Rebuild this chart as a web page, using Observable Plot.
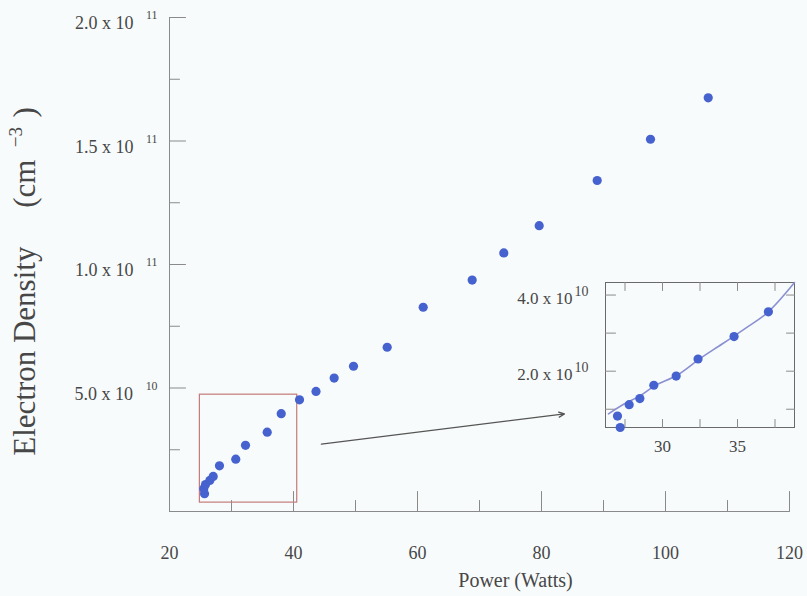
<!DOCTYPE html>
<html>
<head>
<meta charset="utf-8">
<script src="https://cdn.jsdelivr.net/npm/d3@7"></script>
<script src="https://cdn.jsdelivr.net/npm/@observablehq/plot@0.6"></script>
<style>
  html, body { margin: 0; padding: 0; background: #f8fbfc; }
  #wrap { position: relative; width: 807px; height: 596px; overflow: hidden; }
  #wrap svg { position: absolute; }
</style>
</head>
<body>
<div id="wrap"></div>
<script>
// ---- main chart data (Power in W, electron density in cm^-3) ----
const powerW = [25.65, 25.53, 25.81, 26.50, 27.05, 28.06, 30.69, 32.26, 35.76, 38.02, 40.97,
                43.63, 46.56, 49.68, 55.11, 60.92, 68.82, 73.92, 79.63, 88.98, 97.58, 106.89];
const densityCm3 = [0.72e10, 0.92e10, 1.09e10, 1.26e10, 1.42e10, 1.85e10, 2.12e10, 2.68e10, 3.21e10, 3.96e10, 4.52e10,
                    4.86e10, 5.40e10, 5.88e10, 6.65e10, 8.27e10, 9.37e10, 10.47e10, 11.57e10, 13.40e10, 15.07e10, 16.75e10];

// ---- inset data ----
const insetPowerW = [27.18, 27.00, 27.78, 28.49, 29.42, 30.91, 32.37, 34.77, 37.06];
const insetDensity = [0.52e10, 0.82e10, 1.12e10, 1.28e10, 1.63e10, 1.87e10, 2.32e10, 2.91e10, 3.56e10];
// fitted curve shown in the inset
const fitPowerW = [26.4, 27.5, 28.5, 29.5, 31.0, 32.5, 34.0, 35.5, 37.0, 38.8];
const fitDensity = [0.88e10, 1.15e10, 1.35e10, 1.62e10, 1.90e10, 2.33e10, 2.72e10, 3.12e10, 3.54e10, 4.33e10];

// ---- ticks ----
const xMajorTicks = [20, 40, 60, 80, 100, 120];
const xMinorTicks = [30, 50, 70, 90, 110];
const yMajorTicks = [5e10, 1e11, 1.5e11, 2e11];
const yMinorTicks = [2.5e10, 7.5e10, 1.25e11, 1.75e11];
const insetXLabelTicks = [30, 35];
const insetXTicks = [27.5, 30, 32.5, 35, 37.5];
const insetYLabelTicks = [2e10, 4e10];
const insetYTicks = [1e10, 2e10, 3e10, 4e10];

// ---- annotations ----
const zoomBox = [{x1: 24.9, x2: 40.6, y1: 0.36e10, y2: 4.73e10}];
const zoomArrow = [{x1: 44.5, y1: 2.73e10, x2: 83.7, y2: 3.95e10}];

const xTitle = "Power (Watts)";
const yTitle = "Electron Density\u00a0\u00a0\u00a0\u00a0\u00a0(cm^\u22123^)";

const mainData = powerW.map((p, i) => ({p, n: densityCm3[i]}));
const insetData = insetPowerW.map((p, i) => ({p, n: insetDensity[i]}));
const fitData = fitPowerW.map((p, i) => ({p, n: fitDensity[i]}));

const dotColor = "#4662cf";
const axisColor = "#8a8a8a";
const textColor = "#474747";
const font = "Liberation Serif, Times New Roman, serif";

const sciFmt = v => {
  const e = Math.floor(Math.log10(v) + 1e-9);
  return `${(v / 10 ** e).toFixed(1)} x 10^${e}^`;
};
const tickShape = {draw(ctx, l) { ctx.moveTo(0, 0); ctx.lineTo(0, -l); }};
const vtick = (data, opts) => Plot.vector(data, {anchor: "start", shape: tickShape, stroke: axisColor, strokeWidth: 1, ...opts});

const main = Plot.plot({
  width: 807, height: 596,
  marginLeft: 169, marginRight: 18, marginTop: 17, marginBottom: 85,
  style: {background: "transparent", fontFamily: font, color: textColor},
  x: {domain: [20, 120]},
  y: {domain: [0, 2e11]},
  marks: [
    Plot.axisX({ticks: xMajorTicks, tickSize: 0, tickPadding: 35, fontSize: 18, label: null, tickFormat: d => String(d)}),
    Plot.axisY({ticks: yMajorTicks, tickSize: 0, tickPadding: 12, dy: 6, fontSize: 18, label: null, tickFormat: sciFmt}),
    Plot.ruleX([20], {stroke: axisColor}),
    Plot.ruleY([0], {stroke: axisColor}),
    vtick(yMajorTicks, {x: 20, y: d => d, length: 16, rotate: 90}),
    vtick(yMinorTicks, {x: 20, y: d => d, length: 10, rotate: 90}),
    vtick(xMajorTicks.slice(1), {x: d => d, y: 0, length: 20, rotate: 0}),
    vtick(xMinorTicks, {x: d => d, y: 0, length: 11, rotate: 0}),
    Plot.rect(zoomBox, {x1: "x1", x2: "x2", y1: "y1", y2: "y2", fill: "none", stroke: "#c47a7a", strokeWidth: 1.2}),
    Plot.arrow(zoomArrow, {x1: "x1", y1: "y1", x2: "x2", y2: "y2", stroke: "#555", strokeWidth: 1.3, headLength: 7, headAngle: 50}),
    Plot.dot(mainData, {x: "p", y: "n", r: 4.6, fill: dotColor}),
    Plot.text([xTitle], {text: d => d, frameAnchor: "bottom", textAnchor: "middle", dx: 36, dy: 69, fontSize: 20, lineAnchor: "middle", fill: textColor}),
    Plot.text([yTitle], {text: d => d, frameAnchor: "left", textAnchor: "middle", dx: -144, dy: 17, rotate: -90, fontSize: 31, lineAnchor: "middle", fill: textColor})
  ]
});
main.style.left = "0px"; main.style.top = "0px";

const inset = Plot.plot({
  width: 300, height: 190,
  marginLeft: 105, marginRight: 6, marginTop: 12, marginBottom: 33,
  style: {background: "transparent", fontFamily: font, color: textColor},
  x: {domain: [26.2, 38.8]},
  y: {domain: [0.52e10, 4.33e10]},
  marks: [
    Plot.frame({stroke: "#6a6a6a", strokeWidth: 1}),
    Plot.axisX({ticks: insetXLabelTicks, tickSize: 0, tickPadding: 12, fontSize: 17, label: null, tickFormat: d => String(d)}),
    Plot.axisY({ticks: insetYLabelTicks, tickSize: 0, tickPadding: 17, dy: 3, fontSize: 17, label: null, tickFormat: sciFmt}),
    vtick(insetYTicks, {x: 26.2, y: d => d, length: 10, rotate: 90}),
    vtick(insetYTicks, {x: 38.8, y: d => d, length: 8, rotate: -90}),
    vtick(insetXTicks, {x: d => d, y: 4.33e10, length: 8, rotate: 180}),
    vtick(insetXTicks, {x: d => d, y: 0.52e10, length: 8, rotate: 0}),
    Plot.line(fitData, {x: "p", y: "n", stroke: "#8a90d2", strokeWidth: 1.6, curve: "catmull-rom"}),
    Plot.dot(insetData, {x: "p", y: "n", r: 4.6, fill: dotColor})
  ]
});
inset.style.left = "500px"; inset.style.top = "270px";

const wrap = document.getElementById("wrap");
wrap.appendChild(main);
wrap.appendChild(inset);

// turn "base^sup^rest" into real superscript tspans
function supify(svg, tickCfg, titleCfg) {
  d3.select(svg).selectAll("text").each(function () {
    const t = this.textContent;
    if (!t.includes("^")) return;
    const fs = parseFloat(getComputedStyle(this).fontSize) || 15;
    const cfg = fs >= 20 ? titleCfg : tickCfg;
    const shift = cfg.shift * fs;
    const parts = t.split("^");
    const sel = d3.select(this);
    sel.text(null);
    parts.forEach((p, i) => {
      if (!p) return;
      const ts = sel.append("tspan").text(p);
      if (i % 2 === 1) {
        ts.attr("font-size", `${cfg.scale * fs}px`).attr("dy", `${-shift}px`).attr("dx", `${cfg.gap * fs}px`);
      } else if (i > 0) {
        ts.attr("dy", `${shift}px`).attr("dx", `${cfg.after * fs}px`);
      }
    });
  });
}
supify(main, {scale: 0.66, shift: 0.55, gap: 0.7, after: 0.05}, {scale: 0.62, shift: 0.42, gap: 0.4, after: 0.3});
supify(inset, {scale: 0.82, shift: 0.45, gap: 0.12, after: 0.05}, {scale: 0.62, shift: 0.42, gap: 0.4, after: 0.3});
</script>
</body>
</html>
